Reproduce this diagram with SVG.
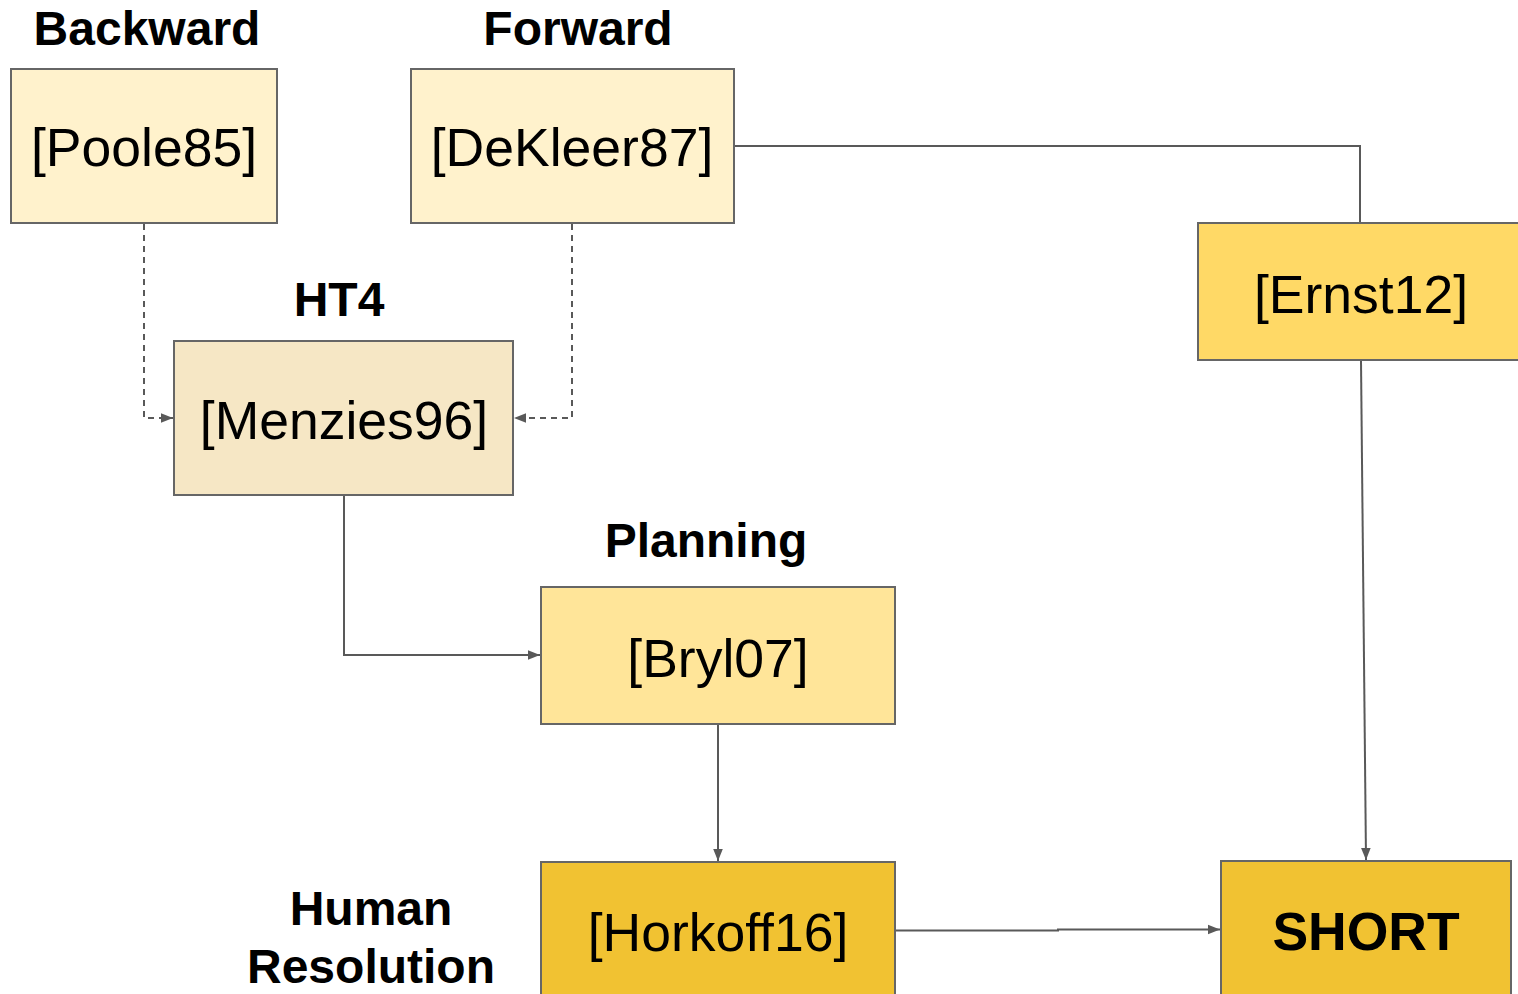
<svg xmlns="http://www.w3.org/2000/svg" width="1518" height="994" viewBox="0 0 1518 994">
<defs>
<style>
.box{stroke:#666666;stroke-width:2}
.t{font-family:"Liberation Sans",Arial,sans-serif;font-size:53.5px;fill:#000;text-anchor:middle}
.lbl{font-family:"Liberation Sans",Arial,sans-serif;font-size:48px;font-weight:bold;fill:#000;text-anchor:middle}
.c{fill:none;stroke:#595959;stroke-width:2}
.d{stroke-dasharray:6,5}
</style>
<marker id="ah" viewBox="0 0 10 10" refX="10" refY="5" markerWidth="12" markerHeight="12" markerUnits="userSpaceOnUse" orient="auto">
<path d="M0,1 L10,5 L0,9 z" fill="#595959"/>
</marker>
</defs>
<rect width="1518" height="994" fill="#ffffff"/>
<g id="connectors">
<path class="c d" d="M144,224 V418 H173" marker-end="url(#ah)"/>
<path class="c d" d="M572,224 V418 H514" marker-end="url(#ah)"/>
<path class="c" d="M735,146 H1360 V223"/>
<path class="c" d="M344,496 V655 H540" marker-end="url(#ah)"/>
<path class="c" d="M718,725 V861" marker-end="url(#ah)"/>
<path class="c" d="M1361,361 L1366,860" marker-end="url(#ah)"/>
<path class="c" d="M896,930.5 H1058 V929.5 H1220" marker-end="url(#ah)"/>
</g>
<g id="label-backward"><text class="lbl" x="147" y="45">Backward</text></g>
<g id="label-forward"><text class="lbl" x="578" y="45">Forward</text></g>
<g id="label-ht4"><text class="lbl" x="339" y="316">HT4</text></g>
<g id="label-planning"><text class="lbl" x="706" y="557">Planning</text></g>
<g id="label-human"><text class="lbl" x="371" y="925">Human</text><text class="lbl" x="371" y="983">Resolution</text></g>
<g id="poole85"><rect class="box" x="11" y="69" width="266" height="154" fill="#fff2cc"/><text class="t" x="144" y="166">[Poole85]</text></g>
<g id="dekleer87"><rect class="box" x="411" y="69" width="323" height="154" fill="#fff2cc"/><text class="t" x="572" y="166">[DeKleer87]</text></g>
<g id="menzies96"><rect class="box" x="174" y="341" width="339" height="154" fill="#f6e7c5"/><text class="t" x="344" y="439">[Menzies96]</text></g>
<g id="bryl07"><rect class="box" x="541" y="587" width="354" height="137" fill="#ffe599"/><text class="t" x="718" y="677">[Bryl07]</text></g>
<g id="ernst12"><rect class="box" x="1198" y="223" width="330" height="137" fill="#ffd966"/><text class="t" x="1361" y="313">[Ernst12]</text></g>
<g id="horkoff16"><rect class="box" x="541" y="862" width="354" height="150" fill="#f1c232"/><text class="t" x="718" y="951">[Horkoff16]</text></g>
<g id="short"><rect class="box" x="1221" y="861" width="290" height="150" fill="#f1c232"/><text class="t" x="1366" y="950" font-weight="bold">SHORT</text></g>
</svg>
